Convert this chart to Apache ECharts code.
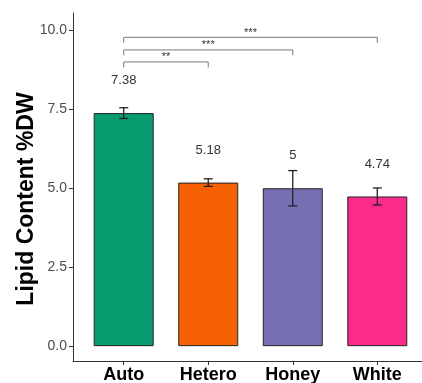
<!DOCTYPE html>
<html>
<head>
<meta charset="utf-8">
<script src="https://cdn.jsdelivr.net/npm/echarts@6/dist/echarts.min.js"></script>
<style>
  html, body { margin: 0; padding: 0; background: #fff; }
  #chart { width: 422px; height: 383px; }
</style>
</head>
<body>
<div id="chart"></div>
<script>
// Lipid content (% dry weight) by cultivation mode
const categories = ['Auto', 'Hetero', 'Honey', 'White'];
const lipidMeans = [7.38, 5.18, 5, 4.74];
const lipidErrors = [0.17, 0.12, 0.56, 0.27];
const barColors = ['#079c70', '#f66104', '#7670b3', '#fc2a8a'];
const yTickValues = [0, 2.5, 5, 7.5, 10];

// Pairwise comparisons against Auto
const compFrom = [0, 0, 0];
const compTo = [1, 2, 3];
const compHeight = [9.0, 9.38, 9.78];
const compStars = ['**', '***', '***'];

const FONT = '"Liberation Sans", Arial, sans-serif';
const positions = categories.map((c, i) => i + 1);

const barData = categories.map((c, i) => ({
  value: [positions[i], lipidMeans[i]],
  itemStyle: { color: barColors[i] }
}));

const errorData = categories.map((c, i) => [
  positions[i], lipidMeans[i] - lipidErrors[i], lipidMeans[i] + lipidErrors[i]
]);

const bracketData = compFrom.map((f, k) => [positions[f], positions[compTo[k]], compHeight[k], k]);

const chart = echarts.init(document.getElementById('chart'), null, { renderer: 'canvas' });

chart.setOption({
  animation: false,
  backgroundColor: '#fff',
  grid: { left: 73, right: -6, top: 13, bottom: 22, containLabel: false, outerBoundsMode: 'none' },
  xAxis: {
    type: 'value',
    min: 0.4,
    max: 4.6,
    splitLine: { show: false },
    axisLine: { show: true, onZero: false, lineStyle: { color: '#333', width: 1 } },
    axisTick: { show: true, customValues: positions, length: 4, lineStyle: { color: '#333', width: 1 } },
    axisLabel: {
      customValues: positions,
      formatter: v => categories[Math.round(v) - 1],
      fontFamily: FONT, fontWeight: 'bold', fontSize: 18, color: '#000', margin: 5
    }
  },
  yAxis: {
    type: 'value',
    min: -0.47,
    max: 10.55,
    name: 'Lipid Content %DW',
    nameLocation: 'middle',
    nameGap: 35,
    nameMoveOverlap: false,
    nameTextStyle: {
      fontFamily: FONT, fontWeight: 'bold', fontSize: 23, color: '#000',
      padding: [0, 24, 0, 0]
    },
    splitLine: { show: false },
    axisLine: { show: true, onZero: false, lineStyle: { color: '#333', width: 1 } },
    axisTick: { show: true, customValues: yTickValues, length: 4, lineStyle: { color: '#333', width: 1 } },
    axisLabel: {
      customValues: yTickValues,
      formatter: v => v.toFixed(1),
      fontFamily: FONT, fontSize: 14, color: '#4d4d4d', margin: 6
    }
  },
  series: [
    {
      type: 'bar',
      data: barData,
      barWidth: 60,
      itemStyle: { borderColor: '#222', borderWidth: 1 },
      label: {
        show: true,
        position: 'top',
        distance: 26,
        formatter: p => String(p.value[1]),
        fontFamily: FONT, fontSize: 13, color: '#333'
      },
      z: 2
    },
    {
      type: 'custom',
      data: errorData,
      z: 3,
      renderItem: (params, api) => {
        const x = api.value(0);
        const lo = api.coord([x, api.value(1)]);
        const hi = api.coord([x, api.value(2)]);
        const hw = 4.5;
        const style = { stroke: '#222', lineWidth: 1.3 };
        return {
          type: 'group',
          children: [
            { type: 'line', shape: { x1: lo[0], y1: lo[1], x2: hi[0], y2: hi[1] }, style },
            { type: 'line', shape: { x1: hi[0] - hw, y1: hi[1], x2: hi[0] + hw, y2: hi[1] }, style },
            { type: 'line', shape: { x1: lo[0] - hw, y1: lo[1], x2: lo[0] + hw, y2: lo[1] }, style }
          ]
        };
      }
    },
    {
      type: 'custom',
      data: bracketData,
      z: 3,
      renderItem: (params, api) => {
        const h = api.value(2);
        const tip = 0.17;
        const a = api.coord([api.value(0), h]);
        const b = api.coord([api.value(1), h]);
        const aLow = api.coord([api.value(0), h - tip]);
        const bLow = api.coord([api.value(1), h - tip]);
        return {
          type: 'group',
          children: [
            {
              type: 'polyline',
              shape: { points: [[aLow[0], aLow[1]], [a[0], a[1]], [b[0], b[1]], [bLow[0], bLow[1]]] },
              style: { stroke: '#7a7a7a', lineWidth: 1, fill: null }
            },
            {
              type: 'text',
              style: {
                text: compStars[api.value(3)],
                x: (a[0] + b[0]) / 2,
                y: a[1] + 1,
                align: 'center',
                verticalAlign: 'bottom',
                fontFamily: FONT, fontSize: 11, fill: '#333'
              }
            }
          ]
        };
      }
    }
  ]
});
</script>
</body>
</html>
